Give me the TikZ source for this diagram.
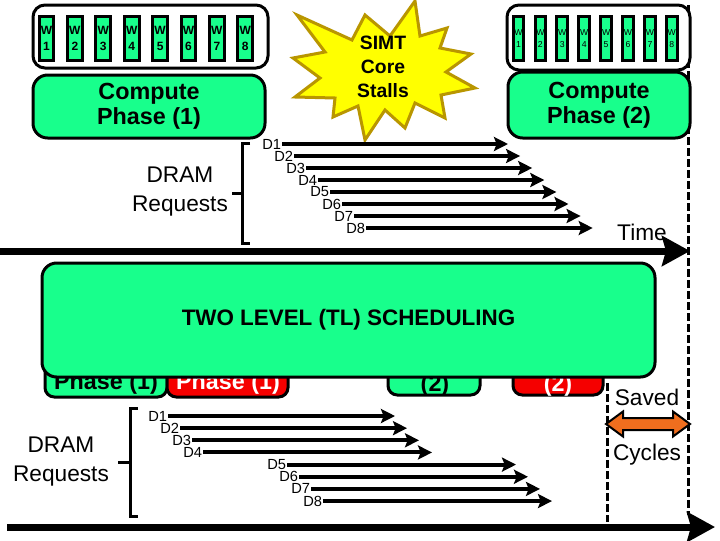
\documentclass[tikz,border=0pt]{standalone}
\usepackage{fontspec}
\setmainfont{Liberation Sans}
\usetikzlibrary{arrows.meta}
\definecolor{mint}{RGB}{24,255,140}
\definecolor{starY}{RGB}{255,255,0}
\definecolor{starO}{RGB}{185,150,0}
\definecolor{orng}{RGB}{240,110,30}
\definecolor{hred}{RGB}{245,0,0}
\begin{document}
\begin{tikzpicture}[x=0.75pt,y=-0.75pt,
 outerbox/.style={draw=black,line width=2.25pt,fill=white,rounded corners=9pt,inner sep=0pt},
 wbig/.style={draw=black,line width=2.25pt,fill=mint,minimum width=11pt,minimum height=33pt,inner sep=0pt,align=center,font=\fontsize{9}{11.5}\selectfont\bfseries},
 wsmall/.style={draw=black,line width=2.25pt,fill=mint,minimum width=8pt,minimum height=33pt,inner sep=0pt,align=center,font=\fontsize{6.5}{9}\selectfont},
 phasebox/.style={draw=black,line width=2.25pt,fill=mint,rounded corners=11pt,inner sep=0pt,align=center,font=\fontsize{17.5}{18.75}\selectfont\bfseries},
 lbl/.style={font=\fontsize{17}{21.75}\selectfont,align=center,inner sep=0pt},
 dl/.style={font=\fontsize{11}{12}\selectfont,inner sep=0.5pt,anchor=east},
 req/.style={line width=3pt,-{Stealth[length=10.5pt,width=10.5pt,inset=2pt]}},
 axisarrow/.style={line width=5.25pt,-{Stealth[length=21pt,width=22.5pt,inset=3pt]}},
 vdash/.style={line width=2.25pt,dash pattern=on 6pt off 2.25pt},
 brk/.style={line width=2.25pt},
 hidbox/.style={draw=black,line width=2.25pt,rounded corners=7pt},
 hidtxt/.style={font=\fontsize{17.5}{18.75}\selectfont\bfseries,inner sep=0pt,anchor=base},
]
\useasboundingbox[fill=white] (0,0) rectangle (720,540);

% dashed vertical lines
\coordinate (va1) at (688,5);
\coordinate (va2) at (688,515);
\coordinate (vb1) at (607,383);
\coordinate (vb2) at (607,522);
\draw[vdash] (va1) -- (va2);
\draw[vdash] (vb1) -- (vb2);

% top-left warps
\node[outerbox,minimum width=176.25pt,minimum height=47.25pt] (warpsA) at (150.5,36.5) {};
\foreach \i in {1,...,8}
  \node[wbig] (wa\i) at ({46.5+28.4*(\i-1)},38.5) {W\\\i};
\node[phasebox,minimum width=174pt,minimum height=47.25pt] (cp1) at (149,106.5) {Compute\\Phase (1)};

% top-right warps
\node[outerbox,minimum width=137.25pt,minimum height=48.75pt] (warpsB) at (598.5,37.5) {};
\foreach \i in {1,...,8}
  \node[wsmall] (wb\i) at ({518.5+21.9*(\i-1)},38.5) {W\\\i};
\node[phasebox,minimum width=136.5pt,minimum height=49.5pt] (cp2) at (599,105) {Compute\\Phase (2)};

% star
\draw[fill=starY,draw=starO,line width=2.25pt,line join=miter]
 (415,1) -- (420,36) -- (447,28) -- (440,48) -- (471,54) -- (446,72) -- (475,88) -- (441,95)
 -- (445,118) -- (415,103) -- (405,128) -- (385,110) -- (365,140) -- (358,106) -- (333,117)
 -- (335,98) -- (295,97) -- (320,78) -- (293,58) -- (325,52) -- (297,15) -- (352,40)
 -- (365,15) -- (390,36) -- cycle;
\node[font=\fontsize{14.5}{18}\selectfont\bfseries,align=center,inner sep=0pt] (stall) at (383,67) {SIMT\\Core\\Stalls};

% top DRAM requests
\node[lbl] (dramA) at (180,191.5) {DRAM\\Requests};
\coordinate (bA1) at (250,143);
\coordinate (bA2) at (242,143);
\coordinate (bA3) at (242,243);
\coordinate (bA4) at (250,243);
\coordinate (bAm) at (242,193);
\coordinate (bAt) at (232,193);
\draw[brk] (bA1) -- (bA2) -- (bA3) -- (bA4);
\draw[brk] (bAm) -- (bAt);
\foreach \i in {1,...,8}{
  \node[dl] (da\i) at ({282+12*(\i-1)},{144+12*(\i-1)}) {D\i};
  \coordinate (ea\i) at ({508+12.1*(\i-1)},{144+12*(\i-1)});
  \draw[req] (da\i.east) -- (ea\i);
}

% top time axis
\coordinate (axA1) at (0,251);
\coordinate (axA2) at (690,251);
\draw[axisarrow] (axA1) -- (axA2);
\node[lbl] (time) at (642,232) {Time};

% hidden phase boxes
\draw[hidbox,fill=mint] (45,266) rectangle (167,397);
\draw[hidbox,fill=hred] (167,266) rectangle (288,397);
\draw[hidbox,fill=mint] (388,266) rectangle (480,395);
\draw[hidbox,fill=hred] (513,266) rectangle (603,395);
\node[hidtxt] (hp1) at (106,389) {Phase (1)};
\node[hidtxt,text=white] (hp2) at (228,389) {Phase (1)};
\node[hidtxt] (hp3) at (435,391) {(2)};
\node[hidtxt,text=white] (hp4) at (558,391) {(2)};

% TL box
\node[draw=black,line width=2.25pt,fill=mint,rounded corners=11pt,minimum width=459.75pt,minimum height=85.5pt,inner sep=0pt,font=\fontsize{16.8}{20}\selectfont\bfseries] (tl) at (348.5,320) {TWO LEVEL (TL) SCHEDULING};

% saved cycles
\node[lbl] (saved) at (647,397) {Saved};
\node[lbl] (cycles) at (647,455) {Cycles};
\draw[fill=orng,draw=black,line width=1.5pt,line join=miter]
 (606,424) -- (623,411.5) -- (623,418) -- (673,418) -- (673,411.5) -- (690,424)
 -- (673,436.5) -- (673,430) -- (623,430) -- (623,436.5) -- cycle;

% lower DRAM requests
\node[lbl] (dramB) at (61,462) {DRAM\\Requests};
\coordinate (bB1) at (138,408);
\coordinate (bB2) at (130,408);
\coordinate (bB3) at (130,516);
\coordinate (bB4) at (138,516);
\coordinate (bBm) at (130,462);
\coordinate (bBt) at (118,462);
\draw[brk] (bB1) -- (bB2) -- (bB3) -- (bB4);
\draw[brk] (bBm) -- (bBt);
\foreach \i/\sx/\ex in {1/168/395,2/180/407,3/192/419,4/203/432,5/287/516,6/299/528,7/311/540,8/323/552}{
  \node[dl] (db\i) at (\sx,{416+12.15*(\i-1)}) {D\i};
  \coordinate (eb\i) at (\ex,{416+12.15*(\i-1)});
  \draw[req] (db\i.east) -- (eb\i);
}

% bottom time axis
\coordinate (axB1) at (7,527);
\coordinate (axB2) at (715,527);
\draw[axisarrow] (axB1) -- (axB2);
\end{tikzpicture}
\end{document}
